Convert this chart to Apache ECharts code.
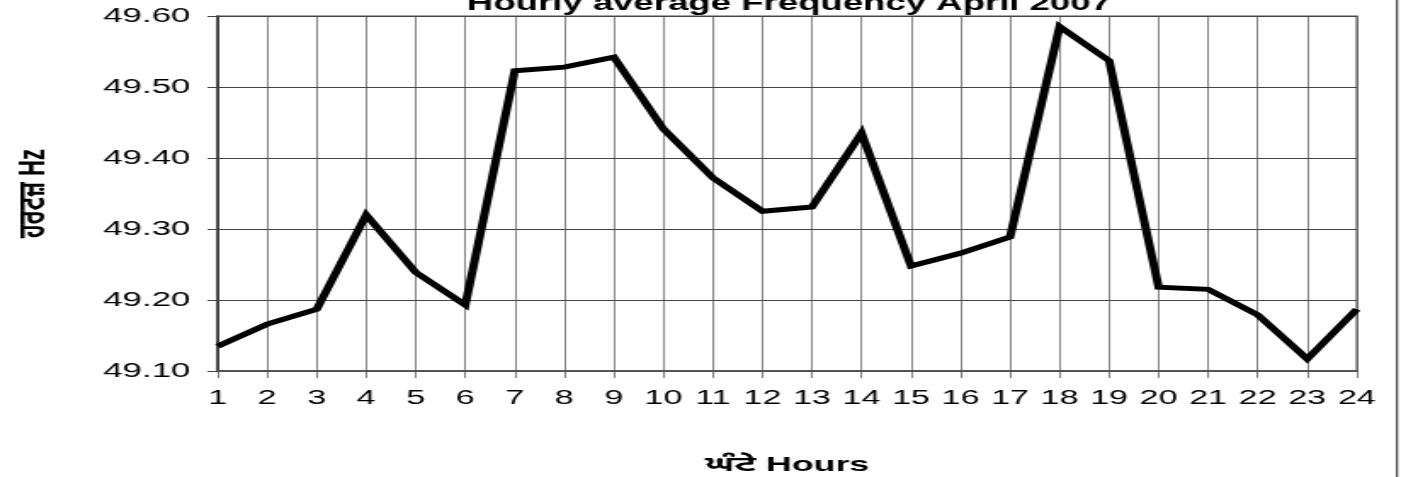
<!DOCTYPE html>
<html>
<head>
<meta charset="utf-8">
<script src="https://cdn.jsdelivr.net/npm/echarts@6/dist/echarts.min.js"></script>
<style>
  html, body { margin: 0; padding: 0; background: #fff; overflow: hidden; }
  /* the original picture is stretched sideways, so draw narrow and widen it */
  #chart { width: 824px; height: 477px; transform: scaleX(1.7002); transform-origin: 0 0; }
</style>
</head>
<body>
<div id="chart"></div>
<script>
// hours of the day
const hours = ['1','2','3','4','5','6','7','8','9','10','11','12','13','14','15','16','17','18','19','20','21','22','23','24'];
// hourly average frequency, Hz
const frequency = [49.135, 49.166, 49.187, 49.320, 49.239, 49.193, 49.523, 49.528, 49.542, 49.441, 49.372, 49.325,
  49.331, 49.435, 49.248, 49.266, 49.289, 49.585, 49.537, 49.218, 49.215, 49.179, 49.117, 49.187];
const yMin = 49.1;
const yMax = 49.6;
const yStep = 0.1;

const font = '"Liberation Sans", Arial, "Noto Sans Gurmukhi", sans-serif';

const gridLeft = 128;
const gridRight = 26;
const chartW = 824;

const chart = echarts.init(document.getElementById('chart'), null, { renderer: 'canvas' });

chart.setOption({
  backgroundColor: '#fff',
  animation: false,
  title: {
    text: 'Hourly average Frequency April 2007',
    left: (gridLeft + chartW - gridRight) / 2 - 4,
    textAlign: 'center',
    top: -12,
    textStyle: { fontFamily: font, fontSize: 21.5, fontWeight: 'bold', color: '#000' }
  },
  grid: {
    left: gridLeft, right: gridRight, top: 16, bottom: 106,
    outerBoundsMode: 'none',
    containLabel: false,
    show: true, borderColor: '#888', borderWidth: 1.5
  },
  xAxis: {
    type: 'category',
    data: hours,
    boundaryGap: false,
    name: 'ਘੰਟੇ Hours',
    nameLocation: 'middle',
    nameGap: 84,
    nameTextStyle: { fontFamily: font, fontSize: 21, fontWeight: 'bold', color: '#000' },
    axisLine: { lineStyle: { color: '#555', width: 2 } },
    axisTick: { show: true, length: 7, lineStyle: { color: '#444', width: 0.7 } },
    axisLabel: { fontFamily: font, fontSize: 20, color: '#000', margin: 17 },
    splitLine: { show: true, lineStyle: { color: '#444', width: 0.65 } }
  },
  yAxis: {
    type: 'value',
    min: yMin,
    max: yMax,
    interval: yStep,
    name: 'ਹਰਟਜ਼ Hz',
    nameLocation: 'middle',
    nameRotate: 90,
    nameGap: 97,
    nameTextStyle: { fontFamily: font, fontSize: 22, fontWeight: 'bold', color: '#000' },
    axisLine: { show: true, lineStyle: { color: '#333', width: 1.5 } },
    axisTick: { show: true, length: 6, lineStyle: { color: '#444' } },
    axisLabel: {
      fontFamily: font, fontSize: 20.5, color: '#000', margin: 16,
      formatter: v => v.toFixed(2)
    },
    splitLine: { show: true, lineStyle: { color: '#444', width: 1 } }
  },
  graphic: [{
    type: 'line',
    shape: { x1: 821.7, y1: 0, x2: 821.7, y2: 477 },
    style: { stroke: '#000', lineWidth: 0.9 }
  }],
  series: [{
    type: 'line',
    data: frequency,
    symbol: 'none',
    lineStyle: { color: '#000', width: 5, join: 'miter' }
  }]
});
</script>
</body>
</html>
